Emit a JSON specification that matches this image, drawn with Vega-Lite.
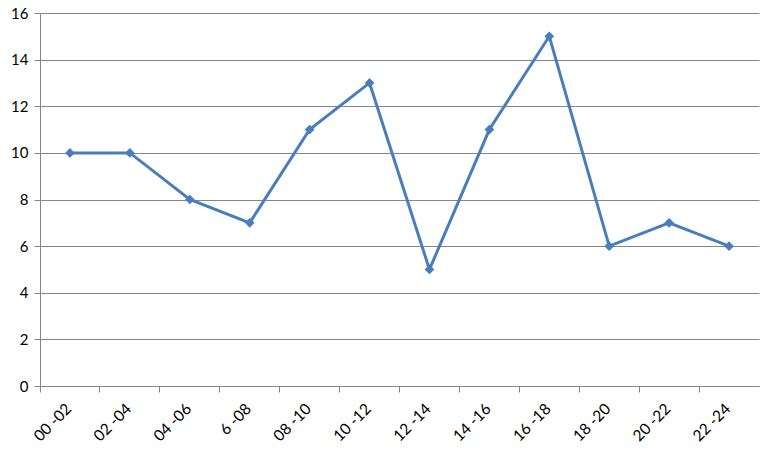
{
  "$schema": "https://vega.github.io/schema/vega-lite/v6.json",
  "width": 719,
  "height": 373,
  "padding": {"left": 10, "top": 6, "right": 15, "bottom": 5},
  "background": "white",
  "config": {
    "view": {"stroke": null},
    "font": "Lato"
  },
  "data": {
    "values": [
      {"period": "00 -02", "value": 10},
      {"period": "02 -04", "value": 10},
      {"period": "04 -06", "value": 8},
      {"period": "6 -08", "value": 7},
      {"period": "08 -10", "value": 11},
      {"period": "10 -12", "value": 13},
      {"period": "12 -14", "value": 5},
      {"period": "14 -16", "value": 11},
      {"period": "16 -18", "value": 15},
      {"period": "18 -20", "value": 6},
      {"period": "20 -22", "value": 7},
      {"period": "22 -24", "value": 6}
    ]
  },
  "encoding": {
    "x": {
      "field": "period",
      "type": "ordinal",
      "sort": null,
      "scale": {"type": "band", "paddingInner": 0, "paddingOuter": 0},
      "axis": {
        "title": null,
        "labelAngle": -45,
        "labelFontSize": 15.5,
        "labelColor": "#000000",
        "labelFont": "Lato",
        "bandPosition": 0,
        "labelOffset": -6,
        "labelPadding": 9,
        "domainColor": "#868686",
        "tickColor": "#868686",
        "tickSize": 6,
        "grid": false
      }
    },
    "y": {
      "field": "value",
      "type": "quantitative",
      "scale": {"domain": [0, 16]},
      "axis": {
        "title": null,
        "values": [0, 2, 4, 6, 8, 10, 12, 14, 16],
        "labelFontSize": 15,
        "labelColor": "#000000",
        "labelFont": "Lato",
        "domainColor": "#868686",
        "tickColor": "#868686",
        "tickSize": 6,
        "labelPadding": 6,
        "gridColor": "#868686",
        "gridWidth": 1
      }
    }
  },
  "layer": [
    {
      "mark": {"type": "line", "color": "#4A7EBB", "strokeWidth": 3}
    },
    {
      "mark": {"type": "point", "shape": "diamond", "filled": true, "color": "#4A7EBB", "size": 95, "opacity": 1}
    }
  ]
}
